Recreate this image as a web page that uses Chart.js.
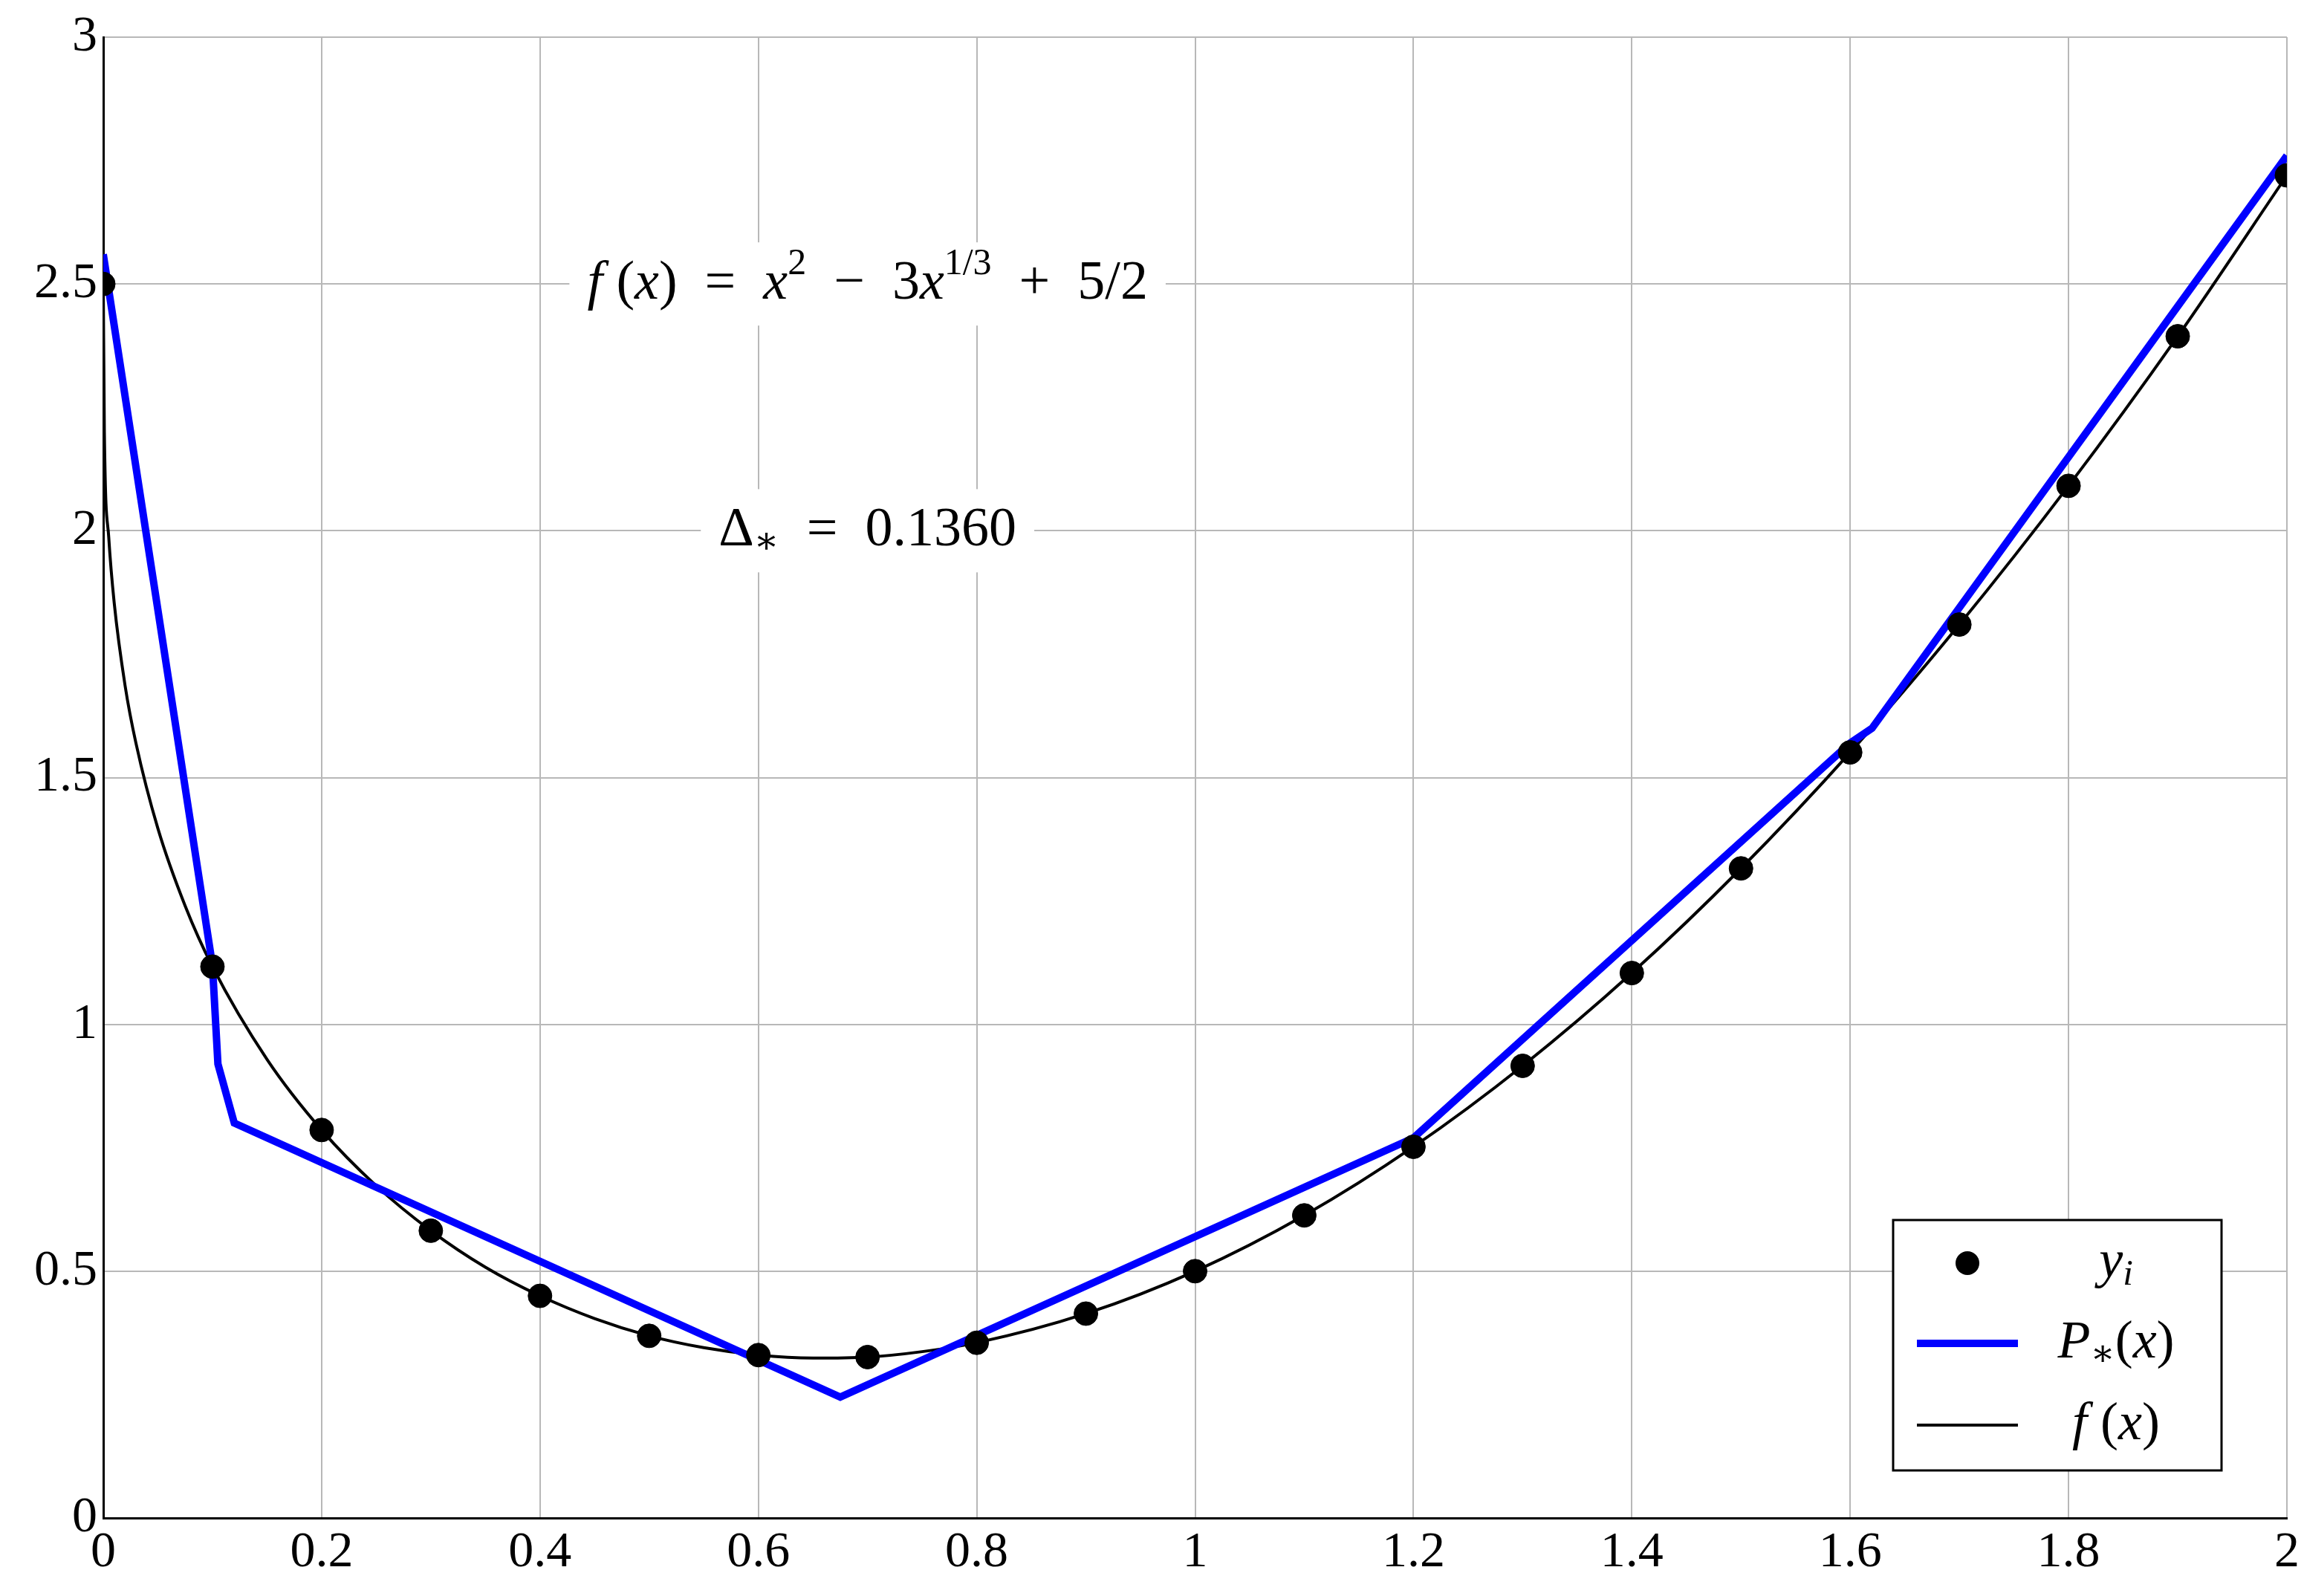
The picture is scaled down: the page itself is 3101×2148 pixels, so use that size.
<!DOCTYPE html>
<html><head><meta charset="utf-8">
<script src="https://cdn.jsdelivr.net/npm/chart.js@4/dist/chart.umd.min.js"></script>
<style>html,body{margin:0;padding:0;background:#fff}#c{display:block}</style>
</head><body><canvas id="c" width="3101" height="2148"></canvas>
<script>
const sampleX = [0,0.1,0.2,0.3,0.4,0.5,0.6,0.7,0.8,0.9,1.0,1.1,1.2,1.3,1.4,1.5,1.6,1.7,1.8,1.9,2.0];
const sampleY = [2.5,1.117,0.786,0.582,0.450,0.369,0.330,0.326,0.355,0.414,0.500,0.613,0.752,0.916,1.104,1.316,1.551,1.810,2.091,2.394,2.720];
const fX = [0,0.001,0.005,0.01,0.02,0.03,0.05,0.075,0.1,0.15,0.2,0.25,0.3,0.35,0.4,0.45,0.5,0.55,0.6,0.65,0.7,0.75,0.8,0.9,1.0,1.1,1.2,1.3,1.4,1.5,1.6,1.7,1.8,1.9,2.0];
const fY = [2.5,2.2,1.987,1.854,1.686,1.569,1.397,1.240,1.117,0.929,0.786,0.673,0.582,0.508,0.450,0.404,0.369,0.345,0.330,0.324,0.326,0.337,0.355,0.414,0.500,0.613,0.752,0.916,1.104,1.316,1.551,1.810,2.091,2.394,2.720];
const pX = [0,0.1,0.105,0.12,0.675,1.2,1.6,1.62,2.0];
const pY = [2.56,1.12,0.92,0.80,0.245,0.77,1.57,1.60,2.76];
const xTicks = [0,0.2,0.4,0.6,0.8,1,1.2,1.4,1.6,1.8,2];
const yTicks = [0,0.5,1,1.5,2,2.5,3];
const legendLabels = ['y','P','f'];

const SERIF = '"Liberation Serif","DejaVu Serif",serif';
const toXY = (xs, ys) => xs.map((x,i)=>({x, y: ys[i]}));

function runs(ctx, parts, cx, cy, size){
  let w = 0;
  const fontFor = p => (p[1]?'italic ':'') + ((p[2]||p[3])?Math.round(size*0.68):size) + 'px ' + SERIF;
  parts.forEach(p=>{ctx.font=fontFor(p); w+=ctx.measureText(p[0]).width;});
  let x = cx - w/2;
  return {w, draw(){
    parts.forEach(p=>{ctx.font=fontFor(p); ctx.textBaseline='middle'; ctx.textAlign='left';
      const dy = p[2]? -size*0.36 : (p[3]? size*0.22 : 0);
      ctx.fillText(p[0], x, cy+dy); x += ctx.measureText(p[0]).width;});
  }};
}

const annot = {
  id:'annot',
  afterDatasetsDraw(chart){
    const ctx = chart.ctx, xs = chart.scales.x, ys = chart.scales.y;
    const size = 74;
    const items = [
      {x:0.70, y:2.5, parts:[['f',1],[' (',0],['x',1],[')  =  ',0],['x',1],['2',0,1],['  −  3',0],['x',1],['1/3',0,1],['  +  5/2',0]]},
      {x:0.70, y:2.0, parts:[['Δ',0],['∗',0,0,1],['  =  0.1360',0]]}
    ];
    items.forEach(it=>{
      const cx = xs.getPixelForValue(it.x), cy = ys.getPixelForValue(it.y);
      const r = runs(ctx, it.parts, cx, cy, size);
      ctx.save(); ctx.fillStyle='#fff';
      ctx.fillRect(cx - r.w/2 - 24, cy - 56, r.w + 48, 112);
      ctx.fillStyle='#000'; r.draw(); ctx.restore();
    });
  },
  afterDraw(chart){
    const ctx = chart.ctx;
    const L=2548, T=1642, W=442, H=337;
    ctx.save();
    ctx.fillStyle='#fff'; ctx.fillRect(L,T,W,H);
    ctx.strokeStyle='#000'; ctx.lineWidth=3; ctx.strokeRect(L,T,W,H);
    const rows=[T+58,T+166,T+276];
    const sx=L+100;
    ctx.fillStyle='#000'; ctx.beginPath(); ctx.arc(sx,rows[0],16,0,Math.PI*2); ctx.fill();
    ctx.strokeStyle='#0000ff'; ctx.lineWidth=10; ctx.beginPath(); ctx.moveTo(L+32,rows[1]); ctx.lineTo(L+168,rows[1]); ctx.stroke();
    ctx.strokeStyle='#000'; ctx.lineWidth=4; ctx.beginPath(); ctx.moveTo(L+32,rows[2]); ctx.lineTo(L+168,rows[2]); ctx.stroke();
    ctx.fillStyle='#000';
    const size=72, tx=L+300;
    runs(ctx,[['y',1],['i',1,0,1]],tx,rows[0],size).draw();
    runs(ctx,[['P',1],['∗',0,0,1],['(',0],['x',1],[')',0]],tx,rows[1],size).draw();
    runs(ctx,[['f',1],[' (',0],['x',1],[')',0]],tx,rows[2],size).draw();
    ctx.restore();
  }
};

new Chart(document.getElementById('c'), {
  type:'scatter',
  data:{datasets:[
    {label:legendLabels[2], data:toXY(fX,fY), showLine:true, borderColor:'#000', borderWidth:4, pointRadius:0, cubicInterpolationMode:'monotone', order:3},
    {label:legendLabels[1], data:toXY(pX,pY), showLine:true, borderColor:'#0000ff', borderWidth:10, pointRadius:0, tension:0, order:2},
    {label:legendLabels[0], data:toXY(sampleX,sampleY), showLine:false, backgroundColor:'#000', borderColor:'#000', pointRadius:16, order:1}
  ]},
  options:{
    responsive:false, animation:false, devicePixelRatio:1,
    layout:{padding:{top:50,right:23,left:0,bottom:0}},
    plugins:{legend:{display:false}, tooltip:{enabled:false}},
    scales:{
      x:{type:'linear', min:0, max:2,
        afterBuildTicks(s){s.ticks=xTicks.map(v=>({value:v}));},
        afterFit(s){s.height=105;},
        grid:{color:'#b8b8b8', lineWidth:2, drawTicks:false},
        border:{color:'#000', width:3},
        ticks:{color:'#000', font:{family:SERIF, size:68}, padding:6, maxRotation:0, callback:v=>String(v)}},
      y:{type:'linear', min:0, max:3,
        afterBuildTicks(s){s.ticks=yTicks.map(v=>({value:v}));},
        afterFit(s){s.width=139;},
        grid:{color:'#b8b8b8', lineWidth:2, drawTicks:false},
        border:{color:'#000', width:3},
        ticks:{color:'#000', font:{family:SERIF, size:68}, padding:8, callback:v=>String(v)}}
    }
  },
  plugins:[annot]
});
</script></body></html>
